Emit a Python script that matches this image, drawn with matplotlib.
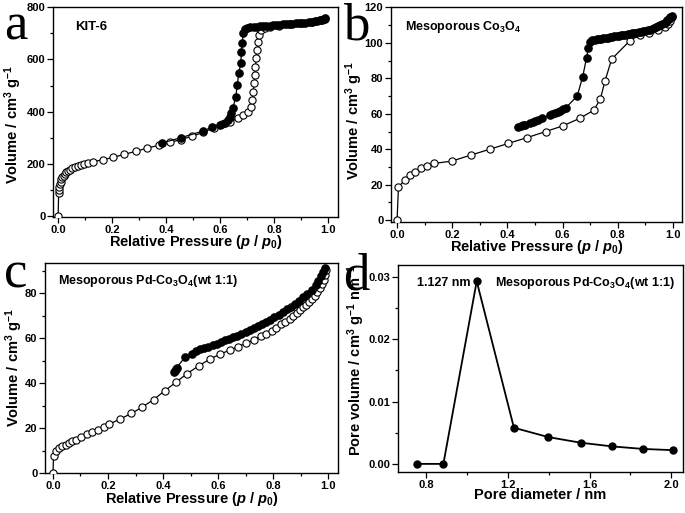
import numpy as np
import matplotlib
matplotlib.use('Agg')
import matplotlib.pyplot as plt
from matplotlib.ticker import MultipleLocator

plt.rcParams['font.family'] = 'Liberation Sans'
plt.rcParams['font.weight'] = 'bold'
plt.rcParams['axes.labelweight'] = 'bold'
plt.rcParams['mathtext.fontset'] = 'custom'
plt.rcParams['mathtext.rm'] = 'Liberation Sans:bold'
plt.rcParams['mathtext.it'] = 'Liberation Sans:bold:italic'
plt.rcParams['mathtext.bf'] = 'Liberation Sans:bold'

# panel a: KIT-6
a_ads_x = [0.0, 0.002, 0.003, 0.005, 0.007, 0.009, 0.012, 0.016, 0.02, 0.025, 0.031, 0.038, 0.045, 0.053,
           0.062, 0.072, 0.083, 0.095, 0.11, 0.128, 0.165, 0.205, 0.245, 0.288, 0.33, 0.373, 0.414, 0.455,
           0.497, 0.538, 0.576, 0.606, 0.636, 0.667, 0.685, 0.704, 0.716, 0.72, 0.723, 0.726, 0.729, 0.731,
           0.734, 0.737, 0.742, 0.746, 0.752, 0.765, 0.785, 0.82, 0.86, 0.9, 0.94, 0.97, 0.99]
a_ads_y = [0, 88, 100, 112, 122, 131, 140, 148, 155, 161, 167, 172, 177, 182,
           186, 190, 194, 198, 203, 208, 215, 225, 236, 248, 260, 271, 282, 293,
           306, 320, 338, 352, 361, 374, 387, 400, 419, 444, 476, 508, 540, 572,
           604, 636, 668, 694, 713, 720, 725, 730, 735, 740, 745, 750, 755]
a_des_x = [0.99, 0.984, 0.977, 0.969, 0.96, 0.95, 0.94, 0.928, 0.916, 0.904, 0.892, 0.88, 0.868, 0.856,
           0.844, 0.832, 0.82, 0.808, 0.796, 0.784, 0.772, 0.76, 0.748, 0.736, 0.724, 0.712, 0.70, 0.692,
           0.685, 0.683, 0.679, 0.677, 0.669, 0.664, 0.658, 0.648, 0.642, 0.636, 0.63, 0.618, 0.6, 0.57,
           0.535, 0.455, 0.385]
a_des_y = [757, 755, 752, 750, 748, 746, 744, 742, 741, 740, 739, 738, 737, 736,
           735, 734, 733, 732, 731, 730, 729, 728, 727, 726, 725, 723, 721, 715,
           700, 662, 630, 585, 547, 502, 457, 413, 394, 381, 368, 355, 349, 340,
           325, 300, 280]

# panel b: mesoporous Co3O4
b_ads_x = [0.0, 0.005, 0.028, 0.046, 0.065, 0.087, 0.109, 0.133, 0.198, 0.267, 0.336, 0.403, 0.472, 0.539,
           0.601, 0.662, 0.713, 0.737, 0.754, 0.778, 0.844, 0.88, 0.914, 0.947, 0.971, 0.983, 0.99, 0.995]
b_ads_y = [0, 18.8, 22.6, 25.4, 27.3, 29.2, 30.7, 32.0, 33.3, 36.7, 40.0, 43.3, 46.6, 50.0,
           53.2, 57.4, 62.0, 68.3, 78.6, 90.8, 101.2, 104.5, 105.7, 107.2, 109.0, 110.5, 112.5, 114.5]
b_des_x = [0.995, 0.99, 0.985, 0.98, 0.975, 0.97, 0.962, 0.955, 0.947, 0.94, 0.932, 0.924, 0.916, 0.908,
           0.9, 0.892, 0.884, 0.876, 0.868, 0.86, 0.852, 0.844, 0.836, 0.828, 0.82, 0.812, 0.804, 0.796,
           0.788, 0.78, 0.772, 0.764, 0.756, 0.748, 0.74, 0.732, 0.724, 0.716, 0.708, 0.699, 0.693, 0.687,
           0.673, 0.653, 0.612, 0.602, 0.591, 0.582, 0.572, 0.563, 0.554, 0.524, 0.512, 0.5, 0.491, 0.482,
           0.465, 0.458, 0.449, 0.44]
b_des_y = [115.3, 114.5, 113.6, 112.8, 112.0, 111.3, 110.5, 109.9, 109.3, 108.8, 108.3, 107.9, 107.5, 107.2,
           106.9, 106.6, 106.3, 106.0, 105.8, 105.5, 105.3, 105.0, 104.8, 104.6, 104.4, 104.2, 104.0, 103.8,
           103.6, 103.4, 103.2, 103.0, 102.8, 102.6, 102.4, 102.2, 102.0, 101.8, 101.5, 100.6, 96.9, 91.6,
           80.9, 70.0, 63.4, 62.6, 61.7, 60.9, 60.2, 59.6, 59.2, 57.4, 56.7, 55.9, 55.4, 54.9,
           53.9, 53.6, 52.9, 52.3]

# panel c: mesoporous Pd-Co3O4 (wt 1:1)
c_ads_x = [0.0, 0.002, 0.012, 0.022, 0.034, 0.046, 0.058, 0.068, 0.082, 0.103, 0.124, 0.143, 0.164, 0.184,
           0.204, 0.245, 0.285, 0.325, 0.366, 0.406, 0.446, 0.488, 0.53, 0.57, 0.606, 0.642, 0.672, 0.703,
           0.73, 0.755, 0.775, 0.795, 0.812, 0.83, 0.845, 0.86, 0.873, 0.886, 0.898, 0.91, 0.921, 0.932,
           0.942, 0.952, 0.961, 0.97, 0.977, 0.984, 0.99, 0.994]
c_ads_y = [0, 7.4, 9.8, 11.2, 11.9, 12.6, 13.4, 14.1, 14.9, 16.0, 17.2, 18.3, 19.3, 20.5,
           21.7, 24.1, 26.5, 29.4, 32.7, 36.6, 40.3, 44.3, 47.7, 50.7, 52.8, 54.7, 56.2, 57.9,
           59.3, 60.8, 62.0, 63.4, 64.7, 66.2, 67.4, 68.7, 69.9, 71.2, 72.4, 73.7, 75.0, 76.3,
           77.6, 79.0, 80.5, 82.2, 84.0, 86.0, 88.3, 90.6]
c_des_x = [0.99, 0.983, 0.975, 0.965, 0.955, 0.94, 0.925, 0.91, 0.895, 0.88, 0.865, 0.85, 0.835, 0.82,
           0.805, 0.79, 0.775, 0.76, 0.745, 0.73, 0.715, 0.70, 0.685, 0.67, 0.655, 0.64, 0.625, 0.61,
           0.595, 0.58, 0.565, 0.55, 0.535, 0.52, 0.505, 0.48, 0.449, 0.446, 0.443, 0.44]
c_des_y = [91.3, 89.5, 87.6, 85.5, 83.5, 81.6, 79.9, 78.3, 76.8, 75.4, 74.1, 72.8, 71.6, 70.4,
           69.3, 68.2, 67.2, 66.2, 65.3, 64.5, 63.6, 62.8, 62.0, 61.2, 60.4, 59.7, 59.0, 58.4,
           57.6, 57.0, 56.3, 55.6, 55.0, 54.3, 53.2, 51.6, 46.8, 46.2, 45.6, 45.0]

# panel d: pore size distribution
d_x = [0.758, 0.885, 1.048, 1.23, 1.398, 1.556, 1.712, 1.862, 2.008]
d_y = [0.0, 0.0, 0.0293, 0.0058, 0.0043, 0.0034, 0.0028, 0.0024, 0.0022]

fig = plt.figure(figsize=(6.85, 5.13), dpi=100)
W, H = 685.0, 513.0

def make_ax(l, t, r, b):
    return fig.add_axes([l / W, 1 - b / H, (r - l) / W, (b - t) / H])

def style(ax):
    ax.tick_params(which='both', direction='out', labelsize=8, width=0.9, top=False, right=False, pad=1.5)
    ax.tick_params(which='major', length=4)
    ax.tick_params(which='minor', length=2.5)
    for s in ax.spines.values():
        s.set_linewidth(1.0)

def labels(ax, xl, yl, xy, yx, yy):
    # label centres in axes coordinates
    ax.set_xlabel(xl, fontsize=10.5, va='center')
    ax.set_ylabel(yl, fontsize=10.5, va='center')
    ax.xaxis.set_label_coords(0.5, xy)
    ax.yaxis.set_label_coords(yx, yy)

def isotherm(ax, ax_x, ax_y, dx, dy):
    ax.plot(ax_x, ax_y, '-', color='black', lw=0.9, marker='o', ms=5.2, mfc='white', mec='black', mew=0.8, zorder=3)
    ax.plot(dx, dy, '-', color='black', lw=0.9, marker='o', ms=5.2, mfc='black', mec='black', zorder=4)

xlabel = r'Relative Pressure ($\it{p}$ / $\it{p}_0$)'
ylabel = r'Volume / cm$^3$ g$^{-1}$'

# a
ax = make_ax(53, 7, 338, 217)
isotherm(ax, a_ads_x, a_ads_y, a_des_x, a_des_y)
ax.set_xlim(-0.019, 1.037)
ax.set_ylim(-4, 801)
ax.xaxis.set_major_locator(MultipleLocator(0.2))
ax.xaxis.set_minor_locator(MultipleLocator(0.1))
ax.yaxis.set_major_locator(MultipleLocator(200))
ax.yaxis.set_minor_locator(MultipleLocator(100))
labels(ax, xlabel, ylabel, -0.12, -0.140, 0.438)
ax.text(0.077, 0.905, 'KIT-6', transform=ax.transAxes, fontsize=9.5, va='center')
style(ax)

# b
ax = make_ax(391, 7, 682, 222)
isotherm(ax, b_ads_x, b_ads_y, b_des_x, b_des_y)
ax.set_xlim(-0.022, 1.033)
ax.set_ylim(-1, 120.2)
ax.xaxis.set_major_locator(MultipleLocator(0.2))
ax.xaxis.set_minor_locator(MultipleLocator(0.1))
ax.yaxis.set_major_locator(MultipleLocator(20))
ax.yaxis.set_minor_locator(MultipleLocator(10))
labels(ax, xlabel, ylabel, -0.118, -0.125, 0.474)
ax.text(0.048, 0.905, r'Mesoporous Co$_3$O$_4$', transform=ax.transAxes, fontsize=9, va='center')
style(ax)

# c
ax = make_ax(45, 263, 338, 473)
isotherm(ax, c_ads_x, c_ads_y, c_des_x, c_des_y)
ax.set_xlim(-0.029, 1.036)
ax.set_ylim(0, 93.5)
ax.xaxis.set_major_locator(MultipleLocator(0.2))
ax.xaxis.set_minor_locator(MultipleLocator(0.1))
ax.yaxis.set_major_locator(MultipleLocator(20))
ax.yaxis.set_minor_locator(MultipleLocator(10))
labels(ax, xlabel, ylabel, -0.122, -0.104, 0.5)
ax.text(0.044, 0.915, r'Mesoporous Pd-Co$_3$O$_4$(wt 1:1)', transform=ax.transAxes, fontsize=9, va='center')
style(ax)

# d
ax = make_ax(398, 265, 683, 472)
ax.plot(d_x, d_y, '-', color='black', lw=1.3, marker='o', ms=5, mfc='black', mec='black')
ax.set_xlim(0.663, 2.057)
ax.set_ylim(-0.0013, 0.0319)
ax.xaxis.set_major_locator(MultipleLocator(0.4))
ax.xaxis.set_minor_locator(MultipleLocator(0.2))
ax.yaxis.set_major_locator(MultipleLocator(0.01))
ax.yaxis.set_minor_locator(MultipleLocator(0.005))
labels(ax, 'Pore diameter / nm', r'Pore volume / cm$^3$ g$^{-1}$ nm$^{-1}$', -0.112, -0.147, 0.54)
ax.text(0.067, 0.913, '1.127 nm', transform=ax.transAxes, fontsize=9, va='center')
ax.text(0.34, 0.913, r'Mesoporous Pd-Co$_3$O$_4$(wt 1:1)', transform=ax.transAxes, fontsize=9, va='center')
style(ax)

# panel letters
for lab, x, y in [('a', 4, 2), ('b', 343, 2), ('c', 4, 250), ('d', 343, 252)]:
    fig.text(x / W, 1 - y / H, lab, fontsize=38, family='Liberation Serif', weight='normal', va='top', ha='left')

fig.savefig('out.png', dpi=100)
